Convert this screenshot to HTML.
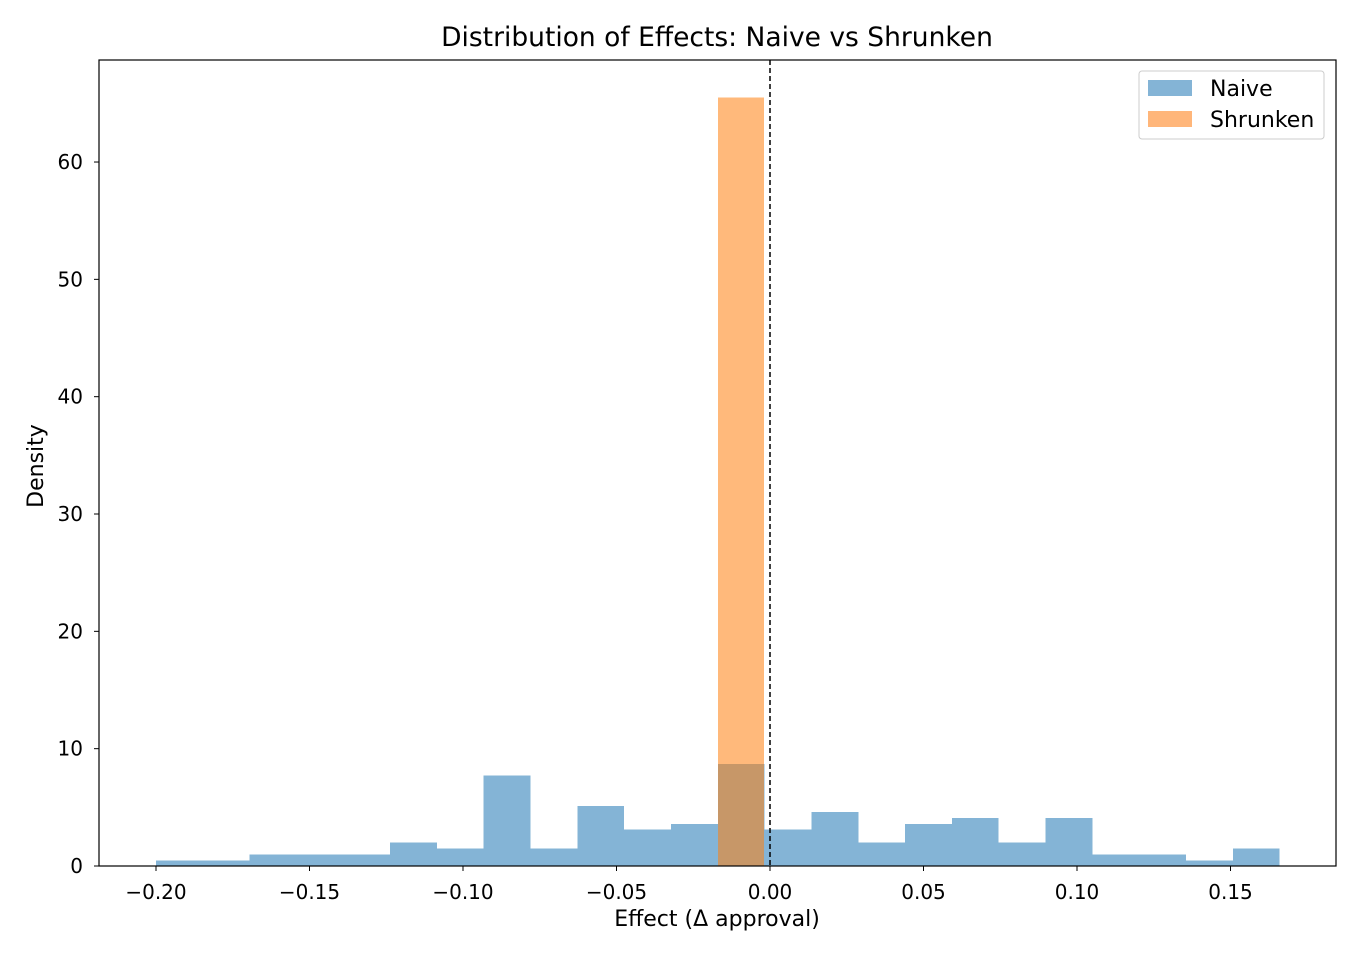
<!DOCTYPE html>
<html><head><meta charset="utf-8"><style>
body{margin:0;background:#fff;font-family:"DejaVu Sans","Liberation Sans",sans-serif}
</style></head><body>
<svg id="chart" width="1360" height="960" xmlns="http://www.w3.org/2000/svg" font-family="DejaVu Sans, Liberation Sans, sans-serif">
<rect x="0" y="0" width="1360" height="960" fill="#fff"/>
<g id="bars" shape-rendering="crispEdges"></g>
<line x1="770" y1="60" x2="770" y2="866" stroke="#000" stroke-width="1.5" stroke-dasharray="5,3"/>
<rect x="99" y="60" width="1237" height="806" fill="none" stroke="#000" stroke-width="1.2"/>
<g id="axes" font-size="20" fill="#000"></g>
<text x="717" y="46" text-anchor="middle" font-size="26.5">Distribution of Effects: Naive vs Shrunken</text>
<text x="717" y="926" text-anchor="middle" font-size="22">Effect (Δ approval)</text>
<text x="43" y="466" text-anchor="middle" font-size="22" transform="rotate(-90 43 466)">Density</text>
<g>
<rect x="1139" y="71" width="185" height="68" rx="3" fill="#fff" fill-opacity="0.8" stroke="#ccc"/>
<rect x="1148" y="80" width="44" height="16" fill="#84b4d6"/>
<text x="1210" y="96" font-size="22">Naive</text>
<rect x="1148" y="111" width="44" height="16" fill="#ffb67a"/>
<text x="1210" y="127" font-size="22">Shrunken</text>
</g>
</svg>
<script>
const naiveStart = -0.2;
const naiveWidth = 0.01525;
const naiveDensity = [0.45,0.45,1.0,1.0,1.0,2.0,1.5,7.7,1.5,5.1,3.1,3.6,8.7,3.1,4.6,2.0,3.6,4.1,2.0,4.1,1.0,1.0,0.45,1.5];
const shrunkenEdges = [-0.01695,-0.00195];
const shrunkenDensity = [65.5];
const xTicks = [-0.20,-0.15,-0.10,-0.05,0.00,0.05,0.10,0.15];
const xTickLabels = ["−0.20","−0.15","−0.10","−0.05","0.00","0.05","0.10","0.15"];
const yTicks = [0,10,20,30,40,50,60];

const X0=99,X1=1336,Y0=866,Y1=60;
function x(v){return 770+v*3070;}
function y(v){return 866-v*11.733;}
const NS="http://www.w3.org/2000/svg";
const bars=document.getElementById('bars');
naiveDensity.forEach((d,i)=>{
  const r=document.createElementNS(NS,'rect');
  const a=naiveStart+i*naiveWidth,b=a+naiveWidth;
  r.setAttribute('x',x(a));r.setAttribute('width',x(b)-x(a));
  r.setAttribute('y',y(d));r.setAttribute('height',y(0)-y(d));
  r.setAttribute('fill','#84b4d6');
  
  
  bars.appendChild(r);
});
shrunkenDensity.forEach((d,i)=>{
  const r=document.createElementNS(NS,'rect');
  const a=shrunkenEdges[i],b=shrunkenEdges[i+1];
  r.setAttribute('x',x(a));r.setAttribute('width',x(b)-x(a));
  r.setAttribute('y',y(d));r.setAttribute('height',y(0)-y(d));
  r.setAttribute('fill','#ff7f0e');r.setAttribute('fill-opacity','0.55');
  
  
  bars.appendChild(r);
});
const ax=document.getElementById('axes');
xTicks.forEach((v,i)=>{
  const l=document.createElementNS(NS,'line');
  l.setAttribute('x1',x(v));l.setAttribute('x2',x(v));l.setAttribute('y1',Y0);l.setAttribute('y2',Y0+5);
  l.setAttribute('stroke','#000');
  
  
  ax.appendChild(l);
  const t=document.createElementNS(NS,'text');
  t.setAttribute('x',x(v));t.setAttribute('y',Y0+33);t.setAttribute('text-anchor','middle');
  t.textContent=xTickLabels[i];
  
  
  ax.appendChild(t);
});
yTicks.forEach(v=>{
  const l=document.createElementNS(NS,'line');
  l.setAttribute('x1',X0-5);l.setAttribute('x2',X0);l.setAttribute('y1',y(v));l.setAttribute('y2',y(v));
  l.setAttribute('stroke','#000');
  
  
  ax.appendChild(l);
  const t=document.createElementNS(NS,'text');
  t.setAttribute('x',X0-16);t.setAttribute('y',y(v)+7);t.setAttribute('text-anchor','end');
  t.textContent=String(v);
  
  
  ax.appendChild(t);
});
</script>
</body></html>
